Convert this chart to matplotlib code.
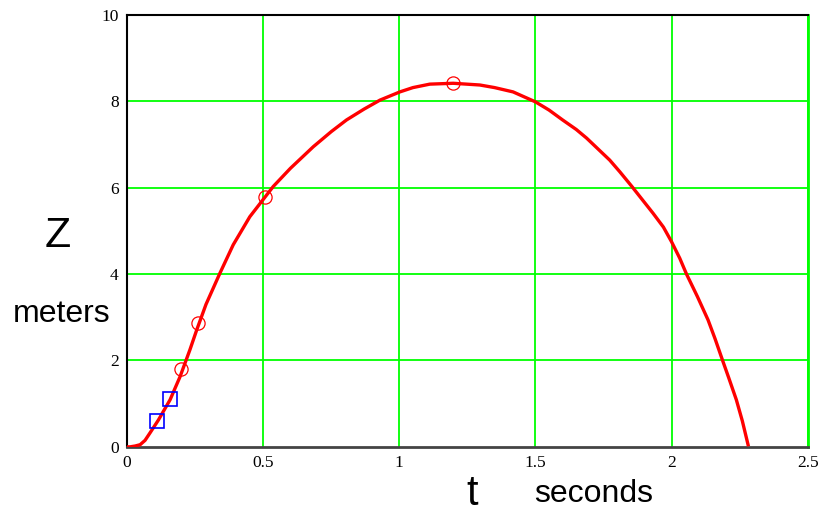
import matplotlib
matplotlib.use("Agg")
import matplotlib.pyplot as plt

# trajectory (t in seconds, z in meters)
t_curve = [0, 0.011, 0.03, 0.048, 0.066, 0.084, 0.115, 0.158, 0.195, 0.231,
           0.256, 0.29, 0.341, 0.39, 0.451, 0.537, 0.6, 0.684, 0.75, 0.806,
           0.87, 0.929, 1.002, 1.05, 1.112, 1.198, 1.296, 1.35, 1.418, 1.5,
           1.55, 1.60, 1.65, 1.688, 1.773, 1.81, 1.853, 1.932, 1.97, 2.0,
           2.03, 2.055, 2.095, 2.134, 2.16, 2.187, 2.21, 2.238, 2.26, 2.281]
z_curve = [0, 0, 0.02, 0.05, 0.15, 0.32, 0.62, 1.09, 1.63, 2.25,
           2.71, 3.3, 4.02, 4.68, 5.33, 6.03, 6.45, 6.95, 7.3, 7.57,
           7.82, 8.03, 8.22, 8.32, 8.40, 8.42, 8.38, 8.32, 8.22, 7.99,
           7.8, 7.57, 7.35, 7.15, 6.64, 6.37, 6.04, 5.41, 5.09, 4.75,
           4.37, 4.0, 3.48, 2.94, 2.5, 2.01, 1.6, 1.09, 0.6, 0.05]

# measured points
t_circ = [0.198, 0.262, 0.507, 1.198]
z_circ = [1.80, 2.86, 5.78, 8.42]
t_sq = [0.109, 0.158]
z_sq = [0.59, 1.10]

xticks = [0, 0.5, 1, 1.5, 2, 2.5]
xtick_labels = ["0", "0.5", "1", "1.5", "2", "2.5"]
yticks = [0, 2, 4, 6, 8, 10]

fig = plt.figure(figsize=(8.25, 5.19), dpi=100)
ax = fig.add_axes([0.154, 0.139, 0.825, 0.832])

green = "#00ff00"
for x in xticks[1:]:
    ax.axvline(x, color=green, lw=1.3, zorder=1)
for y in yticks[1:-1]:
    ax.axhline(y, color=green, lw=1.3, zorder=1)

ax.plot(t_curve, z_curve, color="red", lw=2.4, zorder=3)
ax.plot(t_circ, z_circ, "o", ms=9.5, mfc="none", mec="red", mew=0.9, zorder=4)
ax.plot(t_sq, z_sq, "s", ms=10.5, mfc="none", mec="blue", mew=1.2, zorder=4)

ax.set_xlim(0, 2.5)
ax.set_ylim(0, 10)
ax.set_xticks(xticks)
ax.set_xticklabels(xtick_labels)
ax.set_yticks(yticks)
ax.tick_params(length=0, labelsize=12.5, pad=6)
for lab in ax.get_xticklabels() + ax.get_yticklabels():
    lab.set_family("Liberation Serif")

ax.spines["left"].set_color("black")
ax.spines["left"].set_linewidth(1.5)
ax.spines["top"].set_color("black")
ax.spines["top"].set_linewidth(1.5)
ax.spines["bottom"].set_color("#444444")
ax.spines["bottom"].set_linewidth(2)
ax.spines["right"].set_color(green)
ax.spines["right"].set_linewidth(2)

# axis labels placed like the original
fig.text(58 / 825, 1 - 247 / 519, "Z", fontsize=31, family="Liberation Sans",
         ha="center", va="baseline")
fig.text(62 / 825, 1 - 322 / 519, "meters", fontsize=23, family="Liberation Sans",
         ha="center", va="baseline")
fig.text(472 / 825, 1 - 505 / 519, "t", fontsize=30, family="Liberation Sans",
         ha="center", va="baseline")
fig.text(594 / 825, 1 - 502 / 519, "seconds", fontsize=23, family="Liberation Sans",
         ha="center", va="baseline")

fig.savefig("out.png", dpi=100)
